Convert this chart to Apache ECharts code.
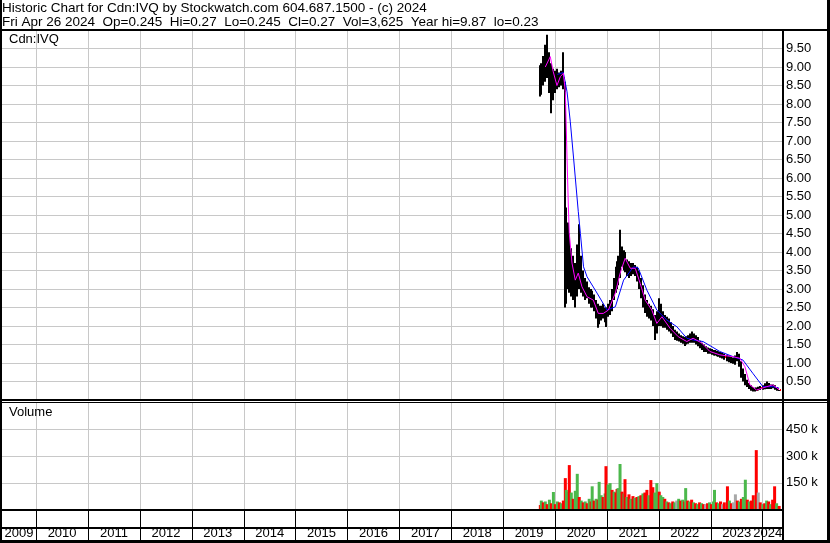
<!DOCTYPE html>
<html><head><meta charset="utf-8">
<script src="https://cdn.jsdelivr.net/npm/echarts@6/dist/echarts.min.js"></script>
<style>html,body{margin:0;padding:0;background:#fff}#c{width:830px;height:543px}</style>
</head><body><div id="c"></div>
<script>
// ---- data ----
const dates = ['2019-09-19','2019-09-26','2019-10-10','2019-10-24','2019-11-07','2019-11-22','2019-12-06','2019-12-20','2020-01-03','2020-01-17',
'2020-01-31','2020-02-14','2020-02-28','2020-03-13','2020-03-20','2020-04-03','2020-04-10','2020-04-24','2020-05-08','2020-05-22',
'2020-06-05','2020-06-19','2020-07-03','2020-07-17','2020-07-31','2020-08-14','2020-08-28','2020-09-11','2020-09-18','2020-10-02',
'2020-10-16','2020-10-30','2020-11-06','2020-11-20','2020-12-04','2020-12-18','2020-12-24','2021-01-08','2021-01-22','2021-02-05',
'2021-02-19','2021-03-05','2021-03-12','2021-03-19','2021-04-02','2021-04-16','2021-04-30','2021-05-07','2021-05-21','2021-06-04',
'2021-06-18','2021-07-02','2021-07-16','2021-07-30','2021-08-13','2021-08-27','2021-09-10','2021-09-24','2021-10-08','2021-10-22',
'2021-11-05','2021-11-19','2021-12-03','2021-12-17','2022-01-03','2022-01-14','2022-01-28','2022-02-11','2022-02-25','2022-03-11',
'2022-03-25','2022-04-08','2022-04-22','2022-05-06','2022-05-20','2022-06-03','2022-06-17','2022-07-01','2022-07-08','2022-07-22',
'2022-08-05','2022-08-19','2022-09-02','2022-09-16','2022-09-30','2022-10-14','2022-10-28','2022-11-11','2022-11-25','2022-12-09',
'2022-12-23','2023-01-06','2023-01-20','2023-01-27','2023-02-10','2023-02-24','2023-03-10','2023-03-24','2023-04-06','2023-04-28',
'2023-05-12','2023-05-26','2023-06-09','2023-06-23','2023-07-07','2023-07-21','2023-08-04','2023-08-18','2023-09-01','2023-09-15',
'2023-09-29','2023-10-13','2023-10-27','2023-11-10','2023-11-17','2023-12-01','2023-12-15','2024-01-02','2024-01-15','2024-01-29',
'2024-02-12','2024-02-26','2024-03-11','2024-03-25','2024-04-08','2024-04-26'];
const high = [9.05,9.1,9.3,9.6,9.87,9.4,9.1,8.95,8.9,8.95,
8.85,8.9,9.4,8.6,5.2,4.8,4.5,4.1,3.9,3.7,
4.2,4.75,3.9,3.5,3.3,3.2,3.05,3.0,2.95,2.85,
2.7,2.6,2.55,2.55,2.6,2.5,2.5,2.6,2.7,3.0,
3.3,3.6,3.75,3.9,4.6,4.15,4.05,4.0,3.8,3.75,
3.7,3.7,3.65,3.6,3.5,3.3,3.1,2.85,2.7,2.6,
2.55,2.45,2.3,2.4,2.75,2.6,2.4,2.3,2.25,2.2,
2.1,2.0,1.9,1.85,1.8,1.75,1.72,1.7,1.72,1.75,
1.8,1.85,1.8,1.75,1.7,1.6,1.55,1.5,1.45,1.42,
1.4,1.38,1.35,1.35,1.33,1.32,1.3,1.29,1.26,1.22,
1.2,1.18,1.15,1.2,1.3,1.25,1.05,0.85,0.7,0.55,
0.45,0.4,0.35,0.33,0.34,0.36,0.38,0.4,0.45,0.5,
0.46,0.42,0.42,0.4,0.35,0.27];
const low = [8.2,8.25,8.5,8.6,8.7,8.3,7.75,8.1,8.3,8.4,
8.45,8.5,8.4,2.5,2.6,3.0,2.9,2.8,2.7,2.5,
2.8,3.0,2.9,2.8,2.7,2.75,2.6,2.5,2.5,2.4,
2.2,1.95,2.05,2.15,2.2,2.1,1.97,2.25,2.3,2.4,
2.7,2.9,3.0,3.1,3.3,3.6,3.5,3.45,3.35,3.3,
3.35,3.4,3.35,3.2,3.0,2.75,2.5,2.35,2.25,2.2,
2.15,2.0,1.62,1.8,2.0,2.0,1.95,1.95,1.9,1.85,
1.8,1.7,1.62,1.6,1.58,1.55,1.52,1.46,1.5,1.52,
1.55,1.55,1.55,1.5,1.45,1.4,1.35,1.3,1.3,1.25,
1.25,1.22,1.2,1.2,1.18,1.17,1.14,1.12,1.09,1.05,
1.02,1.0,0.98,0.95,1.05,0.9,0.6,0.5,0.4,0.35,
0.3,0.25,0.23,0.23,0.24,0.26,0.27,0.28,0.29,0.3,
0.3,0.3,0.32,0.28,0.25,0.245];
const close = [8.6,8.7,9.0,9.1,9.3,8.8,8.3,8.5,8.6,8.7,
8.6,8.75,8.7,3.6,3.9,3.5,3.4,3.2,3.1,3.0,
3.4,3.5,3.1,3.0,2.9,2.85,2.8,2.7,2.7,2.6,
2.4,2.2,2.3,2.35,2.4,2.3,2.3,2.45,2.5,2.8,
3.0,3.3,3.45,3.6,3.9,3.9,3.8,3.7,3.55,3.55,
3.55,3.55,3.5,3.4,3.2,3.0,2.7,2.55,2.45,2.4,
2.35,2.2,1.9,2.2,2.35,2.25,2.15,2.1,2.05,2.0,
1.92,1.85,1.75,1.7,1.68,1.65,1.6,1.58,1.6,1.63,
1.68,1.7,1.65,1.6,1.55,1.5,1.45,1.4,1.38,1.33,
1.3,1.3,1.28,1.27,1.25,1.24,1.21,1.2,1.16,1.12,
1.1,1.08,1.05,1.1,1.2,1.0,0.8,0.6,0.5,0.42,
0.36,0.3,0.28,0.27,0.28,0.31,0.32,0.34,0.38,0.4,
0.38,0.36,0.37,0.33,0.3,0.27];
const volume = [25000,50000,40000,45000,30000,55000,35000,98000,30000,45000,
40000,35000,50000,176000,110000,100000,249000,95000,60000,105000,
200000,70000,50000,40000,45000,35000,60000,45000,130000,50000,
60000,55000,155000,80000,70000,90000,243000,140000,148000,110000,
100000,95000,115000,120000,255000,100000,90000,170000,70000,85000,
60000,75000,65000,70000,75000,80000,90000,95000,110000,80000,
165000,125000,95000,148000,100000,80000,70000,60000,45000,40000,
35000,45000,40000,50000,60000,50000,55000,45000,120000,50000,
45000,55000,40000,35000,30000,40000,35000,30000,30000,35000,
40000,30000,45000,110000,40000,35000,45000,30000,40000,130000,
50000,35000,40000,85000,50000,45000,60000,70000,167000,55000,
45000,50000,80000,55000,333000,95000,40000,30000,35000,50000,
45000,30000,55000,130000,35000,20000];
// u = up day (green), d = down day (red), n = unchanged (grey)
const volDir = ['d','u','d','u','d','u','d','u','d','u',
'd','u','d','d','u','u','d','u','d','u',
'u','d','u','d','u','d','u','d','u','d',
'u','d','u','u','d','u','d','u','u','d',
'u','d','d','u','u','d','u','d','u','d',
'u','d','u','d','u','d','u','d','d','u',
'd','d','u','u','d','u','u','d','u','d',
'u','d','u','n','u','d','u','d','u','d',
'u','d','u','d','u','d','u','d','n','d',
'u','d','u','u','d','u','d','n','d','d',
'u','d','n','n','d','u','d','u','u','d',
'u','d','d','u','d','n','d','u','d','u',
'd','u','d','d','u','d'];
const maShortDates = ['2019-10-24','2019-11-28','2019-12-19','2020-01-14','2020-02-07','2020-02-28','2020-03-13','2020-03-25','2020-04-03','2020-04-10',
'2020-04-29','2020-05-22','2020-06-12','2020-07-08','2020-08-13','2020-09-26','2020-10-31','2020-12-05','2021-01-10','2021-02-28',
'2021-04-03','2021-05-08','2021-06-13','2021-07-18','2021-08-22','2021-09-26','2021-11-12','2021-12-17','2022-01-22','2022-03-20',
'2022-05-17','2022-07-16','2022-08-29','2022-10-29','2022-12-26','2023-03-06','2023-06-06','2023-07-24','2023-08-29','2023-10-03',
'2023-11-19','2024-01-29','2024-03-13','2024-04-26'];
const maShort = [9.0,9.28,8.87,8.5,8.74,8.83,8.33,6.54,5.27,4.5,
3.7,3.24,3.43,3.06,2.79,2.7,2.34,2.34,2.43,2.89,
3.43,3.83,3.56,3.56,3.15,2.7,2.43,2.07,2.25,1.94,
1.71,1.58,1.67,1.54,1.31,1.22,1.17,1.13,0.9,0.41,
0.27,0.36,0.41,0.28];
const maLongDates = ['2020-01-17','2020-02-28','2020-03-25','2020-04-17','2020-05-10','2020-06-12','2020-06-27','2020-07-19','2020-08-13','2020-10-22',
'2021-01-01','2021-02-28','2021-04-27','2021-07-06','2021-08-08','2021-10-08','2021-12-17','2022-02-26','2022-05-07','2022-07-16',
'2022-09-01','2022-11-07','2023-03-06','2023-06-08','2023-08-15','2023-10-24','2024-01-03','2024-03-13','2024-04-26'];
const maLong = [8.8,8.85,8.33,7.52,6.54,5.1,4.5,3.6,3.33,2.89,
2.43,2.52,3.24,3.6,3.57,2.97,2.43,2.16,1.98,1.67,
1.62,1.58,1.31,1.17,1.08,0.72,0.36,0.36,0.32];
const yearStarts = ['2010-01-01','2011-01-01','2012-01-01','2013-01-01','2014-01-01','2015-01-01','2016-01-01','2017-01-01',
'2018-01-01','2019-01-01','2020-01-01','2021-01-01','2022-01-01','2023-01-01','2024-01-01'];
const yearLabelDates = ['2009-09-01','2010-07-02','2011-07-02','2012-07-02','2013-07-02','2014-07-02','2015-07-02','2016-07-02',
'2017-07-02','2018-07-02','2019-07-02','2020-07-02','2021-07-02','2022-07-02','2023-07-02','2024-02-06'];
const yearLabels = ['2009','2010','2011','2012','2013','2014','2015','2016','2017','2018','2019','2020','2021','2022','2023','2024'];
const axisStart = '2009-05-05', axisEnd = '2024-05-16';
const headerLine1 = 'Historic Chart for Cdn:IVQ by Stockwatch.com 604.687.1500 - (c) 2024';
const headerLine2 = 'Fri Apr 26 2024  Op=0.245  Hi=0.27  Lo=0.245  Cl=0.27  Vol=3,625  Year hi=9.87  lo=0.23';

// ---- chart ----
const ts = d => new Date(d + 'T00:00:00').getTime();
const FONT = '"Liberation Sans", Arial, sans-serif';
const GRID = '#c8c8c8';
const dirColor = {u:'#4cb84c', d:'#ff0000', n:'#a8a8a8'};
const labelTimes = yearLabelDates.map(ts);
const startTimes = yearStarts.map(ts);
function yearLabelFor(v){
  let best = 0, bd = Infinity;
  labelTimes.forEach((t,i)=>{const dd=Math.abs(t-v); if(dd<bd){bd=dd;best=i;}});
  return yearLabels[best];
}
const chart = echarts.init(document.getElementById('c'), null, {renderer:'canvas'});
const baseX = (gi, extra) => Object.assign({
  type:'value', gridIndex:gi, min:ts(axisStart), max:ts(axisEnd),
  axisLine:{show:false},
  axisTick:{show:false, customValues:startTimes},
  axisLabel:{show:false},
  splitLine:{show:true, lineStyle:{color:GRID, width:1}}
}, extra||{});
const fr = (x,y,w,h) => ({type:'rect', shape:{x,y,width:w,height:h}, style:{fill:'#000'}, z:100, silent:true});
const txt = (x,y,t,sz) => ({type:'text', x, y, style:{text:t, font:(sz||13) + 'px ' + FONT, fill:'#000', textVerticalAlign:'top'}, z:100, silent:true});

chart.setOption({
  animation:false,
  backgroundColor:'#fff',
  grid:[
    {left:2, top:30, width:780, height:370},
    {left:2, top:402.5, width:780, height:107},
    {left:2, top:509.5, width:780, height:31.5}
  ],
  xAxis:[
    baseX(0), baseX(1),
    baseX(2, {
      splitLine:{show:true, lineStyle:{color:'#000', width:1}},
      axisLabel:{show:true, inside:true, margin:1, customValues:labelTimes,
        formatter:(v)=>yearLabelFor(v), color:'#000', fontFamily:FONT, fontSize:13, hideOverlap:false}
    })
  ],
  yAxis:[
    {type:'value', gridIndex:0, position:'right', min:0, max:10, interval:0.5,
      axisLine:{show:false}, axisTick:{show:false},
      splitLine:{lineStyle:{color:GRID}},
      axisLabel:{margin:4, color:'#000', fontFamily:FONT, fontSize:13,
        formatter:(v)=> (v<=0||v>=10)?'':v.toFixed(2)}},
    {type:'value', gridIndex:1, position:'right', min:0, max:600000, interval:150000,
      axisLine:{show:false}, axisTick:{show:false},
      splitLine:{lineStyle:{color:GRID}},
      axisLabel:{margin:4, color:'#000', fontFamily:FONT, fontSize:13,
        formatter:(v)=> (v<=0||v>=600000)?'':(v/1000)+' k'}},
    {type:'value', gridIndex:2, min:0, max:1, show:false, splitLine:{show:false}}
  ],
  series:[
    {type:'custom', xAxisIndex:0, yAxisIndex:0, clip:true, z:2,
      data: dates.map((d,i)=>[ts(d), high[i], low[i], close[i]]),
      encode:{x:0, y:[1,2,3]},
      renderItem:(params, api)=>{
        const x = api.value(0);
        const pH = api.coord([x, api.value(1)]);
        const pL = api.coord([x, api.value(2)]);
        const pC = api.coord([x, api.value(3)]);
        const bx = Math.round(pH[0]) - 1;
        return {type:'group', children:[
          {type:'rect', shape:{x:bx, y:pH[1], width:2, height:Math.max(1, pL[1]-pH[1])}, style:{fill:'#000'}},
          {type:'rect', shape:{x:bx+2, y:Math.round(pC[1])-1, width:1, height:2}, style:{fill:'#ff0000'}}
        ]};
      }},
    {type:'line', xAxisIndex:0, yAxisIndex:0, z:4, showSymbol:false, symbol:'none',
      data: maLongDates.map((d,i)=>[ts(d), maLong[i]]),
      lineStyle:{color:'#0000ff', width:1}},
    {type:'line', xAxisIndex:0, yAxisIndex:0, z:5, showSymbol:false, symbol:'none',
      data: maShortDates.map((d,i)=>[ts(d), maShort[i]]),
      lineStyle:{color:'#ff00ff', width:1}},
    {type:'bar', xAxisIndex:1, yAxisIndex:1, barWidth:3, z:3,
      data: dates.map((d,i)=>({value:[ts(d), volume[i]], itemStyle:{color:dirColor[volDir[i]]}}))}
  ],
  graphic:[
    txt(2, 1, headerLine1, 13.5),
    txt(2, 15, headerLine2, 13.5),
    txt(9, 33, 'Cdn:IVQ'),
    txt(9, 406, 'Volume'),
    fr(0, 29, 830, 2),
    fr(0, 0, 2, 543),
    fr(827, 0, 3, 543),
    fr(0, 540, 830, 3),
    fr(782, 30, 2, 511),
    fr(0, 399, 830, 2),
    fr(0, 402, 830, 1),
    fr(0, 509, 784, 2),
    fr(0, 527, 784, 2)
  ]
});
</script></body></html>
